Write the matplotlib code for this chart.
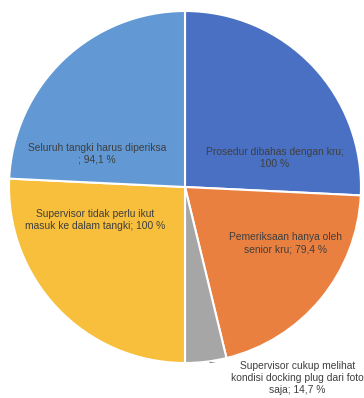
import matplotlib.pyplot as plt

labels = ['Prosedur dibahas dengan kru;\n100 %',
          'Pemeriksaan hanya oleh\nsenior kru; 79,4 %',
          'Supervisor cukup melihat\nkondisi docking plug dari foto\nsaja; 14,7 %',
          'Supervisor tidak perlu ikut\nmasuk ke dalam tangki; 100 %',
          'Seluruh tangki harus diperiksa\n; 94,1 %']
values = [100, 79.4, 14.7, 100, 94.1]
colors = ['#4A70C3', '#EA8040', '#A6A6A6', '#F7BF3B', '#6298D3']

# label positions (fraction of radius), Excel-like placement
label_xy = [(0.51, 0.165), (0.57, -0.32), (0.64, -1.085), (-0.51, -0.19), (-0.50, 0.19)]

fig = plt.figure(figsize=(3.64, 3.98), dpi=100)
cx, cy, r = 185 / 364, 1 - 187 / 398, 176
ax = fig.add_axes([cx - r / 364, cy - r / 398, 2 * r / 364, 2 * r / 398])

ax.pie(values, colors=colors, startangle=90, counterclock=False, radius=1,
       wedgeprops=dict(edgecolor='white', linewidth=1.5))

for lab, (x, y) in zip(labels, label_xy):
    ax.text(x, y, lab, ha='center', va='center', fontsize=7.4,
            color='#3F3F3F', family='Liberation Sans', linespacing=1.25)

# leader line for the small slice
ax.plot([0.14, 0.28], [-0.995, -1.025], color='#808080', lw=0.7)

ax.set_xlim(-1, 1)
ax.set_ylim(-1, 1)
ax.set_aspect('auto')
ax.axis('off')

fig.savefig('out.png', dpi=100)
